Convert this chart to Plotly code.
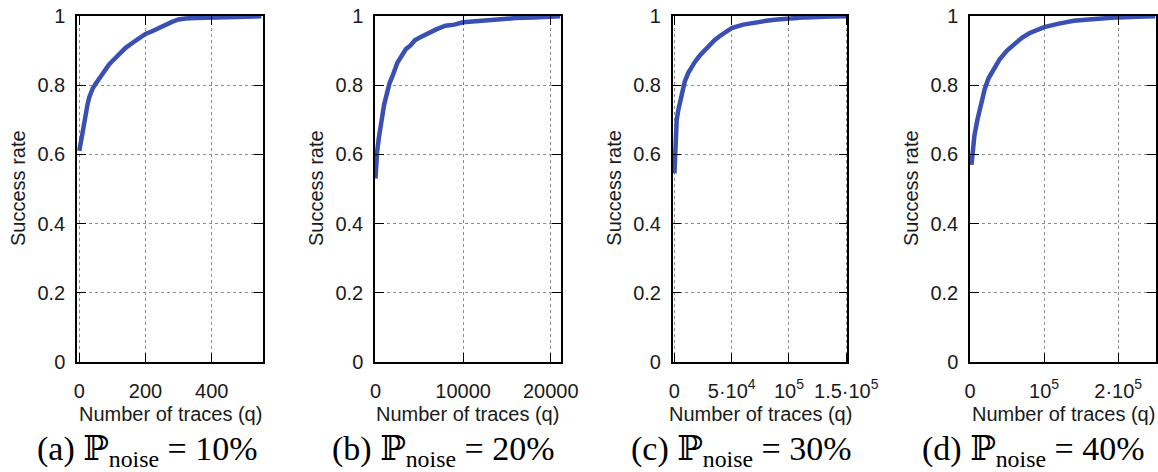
import plotly.graph_objects as go

# ---------------- data ----------------
xa = [0, 5, 10, 15, 20, 25, 30, 35, 40, 50, 60, 70, 80, 90, 100, 120, 140, 160, 180,
      200, 220, 240, 260, 280, 300, 320, 350, 400, 450, 500, 550]
ya = [0.61, 0.64, 0.67, 0.70, 0.72, 0.745, 0.765, 0.78, 0.79, 0.805, 0.82, 0.835, 0.848,
      0.86, 0.87, 0.89, 0.908, 0.922, 0.935, 0.948, 0.956, 0.966, 0.975, 0.983, 0.99,
      0.993, 0.994, 0.995, 0.996, 0.998, 0.999]

xb = [0, 100, 200, 400, 600, 800, 1000, 1300, 1600, 2000, 2500, 3000, 3500, 4000, 4500,
      5000, 6000, 7000, 8000, 9000, 10000, 11000, 12000, 14000, 16000, 18000, 20000, 21100]
yb = [0.53, 0.58, 0.61, 0.65, 0.69, 0.72, 0.745, 0.775, 0.805, 0.83, 0.865, 0.885, 0.905,
      0.915, 0.93, 0.937, 0.95, 0.962, 0.972, 0.975, 0.982, 0.984, 0.988, 0.99, 0.994,
      0.996, 0.998, 0.999]

xc = [0, 500, 1000, 2000, 3500, 5000, 7000, 9000, 12000, 15000, 18000, 22000, 26000,
      30000, 35000, 40000, 45000, 50000, 60000, 70000, 80000, 90000, 100000, 115000,
      130000, 150000]
yc = [0.545, 0.62, 0.66, 0.70, 0.73, 0.755, 0.785, 0.81, 0.835, 0.852, 0.868, 0.885, 0.90,
      0.915, 0.93, 0.943, 0.955, 0.965, 0.975, 0.982, 0.986, 0.99, 0.993, 0.996, 0.998,
      0.999]

xd = [2000, 4000, 6000, 10000, 15000, 20000, 25000, 30000, 40000, 50000, 60000, 70000,
      80000, 90000, 100000, 120000, 140000, 160000, 180000, 200000, 225000, 250000]
yd = [0.57, 0.62, 0.655, 0.70, 0.75, 0.79, 0.82, 0.84, 0.875, 0.90, 0.92, 0.937, 0.95,
      0.96, 0.968, 0.978, 0.986, 0.99, 0.994, 0.996, 0.998, 0.999]

x_ranges = [[-7, 555], [-50, 21140], [-1500, 150900], [0, 251000]]
x_tickvals = [[0, 200, 400], [0, 10000, 20000], [0, 50000, 100000, 150000], [0, 100000, 200000]]
x_ticktext = [["0", "200", "400"], ["0", "10000", "20000"],
              ["0", "5·10<sup>4</sup>", "10<sup>5</sup>", "1.5·10<sup>5</sup>"],
              ["0", "10<sup>5</sup>", "2·10<sup>5</sup>"]]
y_tickvals = [0, 0.2, 0.4, 0.6, 0.8, 1]
y_ticktext = ["0", "0.2", "0.4", "0.6", "0.8", "1"]
captions = ["(a) ℙ<sub>noise</sub> = 10%", "(b) ℙ<sub>noise</sub> = 20%",
            "(c) ℙ<sub>noise</sub> = 30%", "(d) ℙ<sub>noise</sub> = 40%"]
x_title = "Number of traces (q)"
y_title = "Success rate"

# ---------------- layout geometry (pixels) ----------------
W, H = 1158, 472
plot_px = [(77, 263), (375, 560.7), (672.7, 847.3), (970, 1156)]
caption_cx = [147, 443, 741, 1033]
top_px, bot_px = 16, 362

series = [(xa, ya), (xb, yb), (xc, yc), (xd, yd)]
LINE_COLOR = "#3a4fb3"
TICK_FONT = dict(family="Liberation Sans, Arial, sans-serif", size=20, color="#1a1a1a")

fig = go.Figure()
annotations = []
for i, ((xs, ys), (l, r)) in enumerate(zip(series, plot_px)):
    n = "" if i == 0 else str(i + 1)
    fig.add_trace(go.Scatter(x=xs, y=ys, mode="lines", xaxis="x" + n, yaxis="y" + n,
                             line=dict(color=LINE_COLOR, width=4.5), showlegend=False,
                             hoverinfo="skip"))
    axis_common = dict(showline=True, linecolor="black", linewidth=1.5, mirror="ticks",
                       ticks="inside", ticklen=9, tickwidth=1.3, tickcolor="black",
                       showgrid=True, gridcolor="#8c8c8c", gridwidth=1, griddash="dot",
                       zeroline=False, tickfont=TICK_FONT, fixedrange=True,
                       automargin=False)
    fig.update_layout(**{
        "xaxis" + n: dict(domain=[l / W, r / W], anchor="y" + n, range=x_ranges[i],
                          tickmode="array", tickvals=x_tickvals[i], ticktext=x_ticktext[i],
                          ticklabelstandoff=10, **axis_common),
        "yaxis" + n: dict(domain=[1 - bot_px / H, 1 - top_px / H], anchor="x" + n,
                          range=[0, 1], tickmode="array", tickvals=y_tickvals,
                          ticktext=y_ticktext, ticklabelstandoff=6, **axis_common),
    })
    # x-axis title
    annotations.append(dict(text=x_title, x=(l + r) / 2 / W, y=1 - 414 / H, xref="paper",
                            yref="paper", showarrow=False, xanchor="center", yanchor="middle",
                            font=TICK_FONT))
    # y-axis title
    annotations.append(dict(text=y_title, x=(l - 59) / W, y=1 - 188 / H, xref="paper",
                            yref="paper", showarrow=False, xanchor="center", yanchor="middle",
                            textangle=-90, font=TICK_FONT))
    # caption
    annotations.append(dict(text=captions[i], x=caption_cx[i] / W, y=1 - 451 / H,
                            xref="paper", yref="paper", showarrow=False, xanchor="center",
                            yanchor="middle",
                            font=dict(family="Liberation Serif, DejaVu Serif, serif",
                                      size=34, color="black")))

fig.update_layout(width=W, height=H, margin=dict(l=0, r=0, t=0, b=0),
                  paper_bgcolor="white", plot_bgcolor="white", annotations=annotations)

fig.write_html("out.html", config={"displayModeBar": False},
               post_script="document.body.style.margin='0';"
                           "document.body.style.overflow='hidden';")
